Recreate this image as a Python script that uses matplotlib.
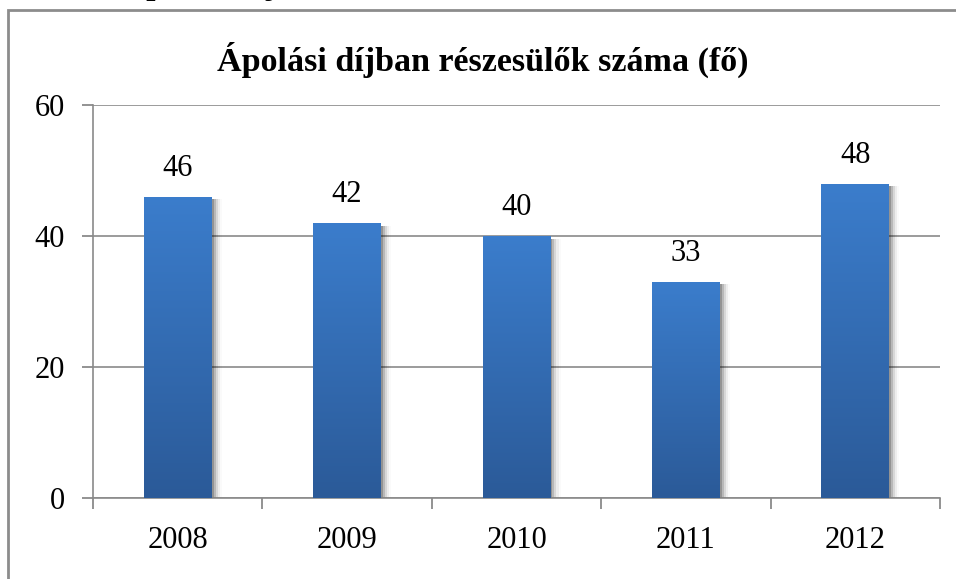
import matplotlib
matplotlib.use("Agg")
import matplotlib.pyplot as plt
import numpy as np
from matplotlib.patches import Rectangle
from matplotlib.colors import LinearSegmentedColormap

years = ['2008', '2009', '2010', '2011', '2012']
counts = [46, 42, 40, 33, 48]
title = 'Ápolási díjban részesülők száma (fő)'

plt.rcParams['font.family'] = ['Liberation Serif', 'DejaVu Serif']

fig = plt.figure(figsize=(9.56, 5.79), dpi=100)
ax = fig.add_axes([93 / 956, 1 - 498 / 579, 847 / 956, 393 / 579])

# frame around the chart (cut off at the right and bottom)
fig.patches.append(Rectangle((8 / 956, -0.1), 1.2, 1.1 - 10 / 579, transform=fig.transFigure,
                             fill=False, edgecolor='#8c8c8c', linewidth=2))
# caption above the frame, only its descenders are visible
fig.text(122 / 956, 1 + 6 / 579, 'Ápolási díjban részesülők száma', fontsize=24,
         fontweight='bold', va='baseline', ha='left')

x = np.arange(len(years))
width = 0.4
cmap = LinearSegmentedColormap.from_list('bar', ['#2b5a98', '#3b7dcc'])
grad = np.linspace(0, 1, 256).reshape(-1, 1)

for xi, v in zip(x, counts):
    # soft shadow at the right side
    for k, a in enumerate([0.2, 0.14, 0.09, 0.05, 0.02]):
        ax.bar(xi + 0.012 * (k + 1), v - 0.4, width, color='black', alpha=a,
               linewidth=0, zorder=2)
    b = ax.bar(xi, v, width, color='#3470b8', linewidth=0, zorder=3)[0]
    im = ax.imshow(grad, cmap=cmap, origin='lower', aspect='auto',
                   extent=[xi - width / 2, xi + width / 2, 0, v], zorder=4)
    im.set_clip_path(b)
    ax.annotate(str(v), (xi, v), xytext=(0, 10), textcoords='offset points',
                ha='center', va='bottom', fontsize=22)

ax.set_xlim(-0.5, len(years) - 0.5)
ax.set_ylim(0, 60)
ax.set_yticks([0, 20, 40, 60])
ax.set_xticks(x)
ax.set_xticklabels(years)
ax.set_xticks(np.arange(-0.5, len(years), 1), minor=True)
ax.tick_params(axis='x', which='major', length=0, pad=20, labelsize=22)
ax.tick_params(axis='x', which='minor', length=8, color='#808080', width=1.2)
ax.tick_params(axis='y', length=8, color='#808080', width=1.2, pad=12, labelsize=22)
ax.grid(axis='y', color='#8a8a8a', linewidth=1.2, zorder=0)
ax.set_axisbelow(True)
for s in ['top', 'right']:
    ax.spines[s].set_visible(False)
for s in ['left', 'bottom']:
    ax.spines[s].set_color('#8a8a8a')
    ax.spines[s].set_linewidth(1.2)

fig.text(0.5 + 5 / 956, 1 - 60 / 579, title, fontsize=24.5, fontweight='bold',
         ha='center', va='center')

fig.savefig('out.png', dpi=100)
